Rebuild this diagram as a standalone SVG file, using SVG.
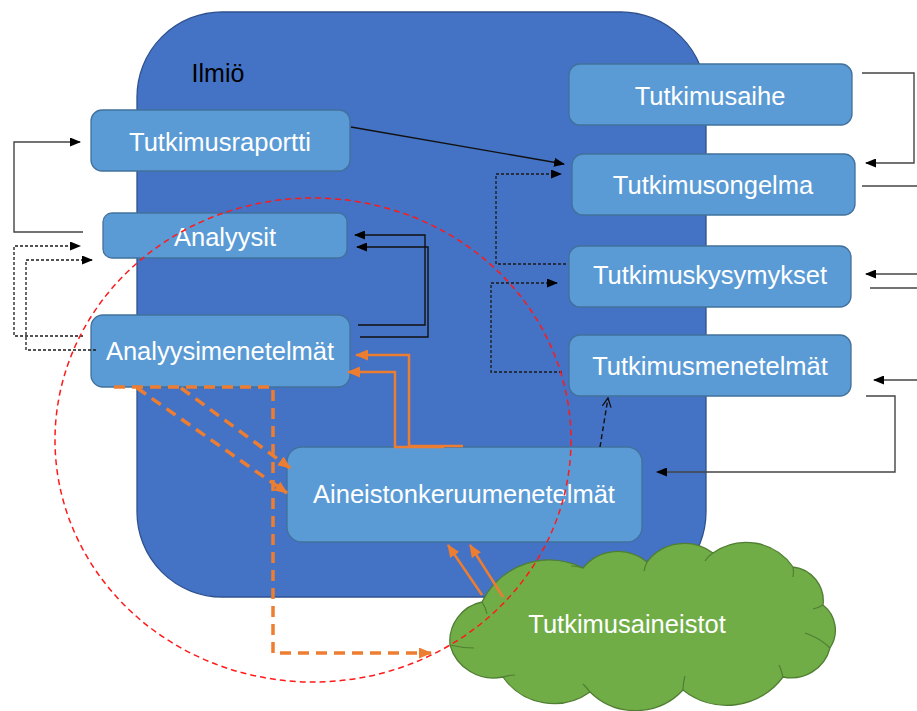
<svg xmlns="http://www.w3.org/2000/svg" width="917" height="711" viewBox="0 0 917 711">
<style>
.box{fill:#5B9BD5;stroke:#41719C;stroke-width:1.3}
.lbl{font-family:"Liberation Sans",Arial,sans-serif;font-size:25.5px;fill:#fff;text-anchor:middle}
.blk{fill:none;stroke:#111;stroke-width:1.4}
.gry{fill:none;stroke:#444;stroke-width:1.4}
.dot{fill:none;stroke:#1a1a1a;stroke-width:1.3;stroke-dasharray:3 2}
.ors{fill:none;stroke:#ED7D31;stroke-width:2.5}
.ord{fill:none;stroke:#ED7D31;stroke-width:3.5;stroke-dasharray:11 7}
.cin{fill:none;stroke:#507E32;stroke-width:1.2}
</style>
<defs>
<marker id="ab" markerUnits="userSpaceOnUse" markerWidth="11" markerHeight="9" refX="10" refY="4.5" orient="auto"><path d="M0,0 L11,4.5 L0,9 z" fill="#000"/></marker>
<marker id="ao" markerUnits="userSpaceOnUse" markerWidth="13" markerHeight="11" refX="12" refY="5.5" orient="auto"><path d="M0,0 L13,5.5 L0,11 z" fill="#ED7D31"/></marker>
<marker id="av" markerUnits="userSpaceOnUse" markerWidth="10" markerHeight="10" refX="9" refY="5" orient="auto"><path d="M0,0.5 L9,5 L0,9.5" fill="none" stroke="#111" stroke-width="1.3"/></marker>
</defs>

<g id="ilmio">
<rect x="137" y="12" width="569" height="585" rx="85" ry="85" fill="#4472C4" stroke="#2F528F" stroke-width="1.3"/>
<text x="218" y="82" font-family="Liberation Sans,Arial,sans-serif" font-size="25" fill="#000" text-anchor="middle">Ilmiö</text>
</g>

<g id="tutkimusraportti"><rect class="box" x="91" y="110" width="259" height="61" rx="11"/><text class="lbl" x="220" y="151">Tutkimusraportti</text></g>
<g id="analyysit"><rect class="box" x="103" y="213" width="244" height="45" rx="9"/><text class="lbl" x="225" y="246">Analyysit</text></g>
<g id="analyysimenetelmat"><rect class="box" x="91" y="315" width="259" height="72" rx="12"/><text class="lbl" x="220" y="360">Analyysimenetelmät</text></g>
<g id="tutkimusaihe"><rect class="box" x="569" y="64" width="283" height="61" rx="11"/><text class="lbl" x="710" y="105">Tutkimusaihe</text></g>
<g id="tutkimusongelma"><rect class="box" x="572" y="154" width="283" height="61" rx="11"/><text class="lbl" x="713" y="194">Tutkimusongelma</text></g>
<g id="tutkimuskysymykset"><rect class="box" x="569" y="246" width="282" height="61" rx="11"/><text class="lbl" x="710" y="284">Tutkimuskysymykset</text></g>
<g id="tutkimusmenetelmat"><rect class="box" x="569" y="335" width="282" height="61" rx="11"/><text class="lbl" x="710" y="375">Tutkimusmenetelmät</text></g>
<g id="aineistonkeruumenetelmat"><rect class="box" x="287" y="447" width="355" height="95" rx="15"/><text class="lbl" x="464" y="503">Aineistonkeruumenetelmät</text></g>

<g id="tutkimusaineistot">
<path d="M450,645 A40,40 0 0 1 482,602 A75,75 0 0 1 583,568 A45,45 0 0 1 647,562 A47,47 0 0 1 713,553 A57,57 0 0 1 793,567 A34,34 0 0 1 823,605 A32,32 0 0 1 830,648 A40,40 0 0 1 783,677 A70,70 0 0 1 683,690 A65,65 0 0 1 590,692 A62,62 0 0 1 503,677 A45,45 0 0 1 450,645 Z" fill="#70AD47" stroke="#507E32" stroke-width="1.3"/>
<path class="cin" d="M482,602 q4,6 5,12"/>
<path class="cin" d="M583,568 q-6,-2 -12,-2"/>
<path class="cin" d="M647,562 q-2,4 -3,9"/>
<path class="cin" d="M713,553 q-5,3 -8,8"/>
<path class="cin" d="M793,567 q1,5 0,10"/>
<path class="cin" d="M823,605 q-5,3 -10,4"/>
<path class="cin" d="M830,648 q-10,-10 -25,-15"/>
<path class="cin" d="M783,677 q-2,-8 -4,-12"/>
<path class="cin" d="M683,690 q0,-8 2,-14"/>
<path class="cin" d="M590,692 q-3,-4 -7,-8"/>
<path class="cin" d="M503,677 q6,-2 12,-2"/>
<path class="cin" d="M450,645 q12,3 24,3"/>
<text x="627" y="633" font-family="Liberation Sans,Arial,sans-serif" font-size="25.5" fill="#fff" text-anchor="middle">Tutkimusaineistot</text>
</g>

<g id="connectors">
<path class="blk" d="M351,127 L564,164" marker-end="url(#ab)"/>
<path class="gry" d="M83,232 H14 V142 H80" marker-end="url(#ab)"/>
<path class="dot" d="M83,336 H14 V246 H80" marker-end="url(#ab)"/>
<path class="dot" d="M96,350 H26 V260 H92" marker-end="url(#ab)"/>
<path class="blk" d="M358,325 H425 V235 H355" marker-end="url(#ab)"/>
<path class="blk" d="M360,337 H428 V247 H357" marker-end="url(#ab)"/>
<path class="gry" d="M862,73 H914 V163 H866" marker-end="url(#ab)"/>
<path class="gry" d="M862,186 H917"/>
<path class="gry" d="M917,274 H866" marker-end="url(#ab)"/>
<path class="gry" d="M870,288 H917"/>
<path class="gry" d="M917,380 H874" marker-end="url(#ab)"/>
<path class="gry" d="M866,396 H895 V472 H657" marker-end="url(#ab)"/>
<path class="dot" d="M566,264 H496 V174 H561" marker-end="url(#ab)"/>
<path class="dot" d="M562,372 H491 V283 H557" marker-end="url(#ab)"/>
<path class="blk" d="M600,447 L608,398" stroke-dasharray="5 3" marker-end="url(#av)"/>
<path class="ors" d="M463,446 H409 V355 H356" marker-end="url(#ao)"/>
<path class="ors" d="M444,447 H395 V372 H348" marker-end="url(#ao)"/>
<path class="ord" d="M114,387 H273 V653 H431" marker-end="url(#ao)"/>
<path class="ord" d="M181,388 L290,468" marker-end="url(#ao)"/>
<path class="ord" d="M137,388 L287,493" marker-end="url(#ao)"/>
<path class="ors" d="M482,595 L448,545" stroke-width="3" marker-end="url(#ao)"/>
<path class="ors" d="M503,597 L470,545" stroke-width="3" marker-end="url(#ao)"/>
<ellipse cx="313" cy="440" rx="258" ry="242" fill="none" stroke="#FF1A1A" stroke-width="1.5" stroke-dasharray="6 4"/>
</g>
</svg>
